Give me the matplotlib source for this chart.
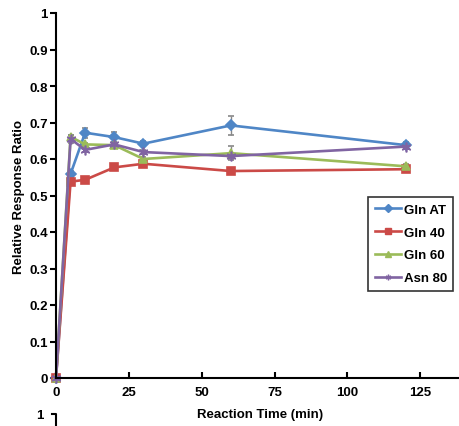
import numpy as np
import matplotlib.pyplot as plt
from matplotlib.lines import Line2D

plt.rcParams['font.family'] = ['Liberation Sans', 'DejaVu Sans']
plt.rcParams['font.weight'] = 'bold'

# reaction time points (min)
time = [0, 5, 10, 20, 30, 60, 120]

# relative response ratio for each sample
gln_at = [0.0, 0.559, 0.672, 0.660, 0.642, 0.692, 0.638]
gln_40 = [0.0, 0.538, 0.543, 0.577, 0.587, 0.567, 0.572]
gln_60 = [0.0, 0.661, 0.640, 0.638, 0.600, 0.616, 0.580]
asn_80 = [0.0, 0.655, 0.625, 0.640, 0.619, 0.608, 0.634]

err_at = [0.0, 0.008, 0.014, 0.013, 0.006, 0.026, 0.008]
err_40 = [0.0, 0.005, 0.004, 0.005, 0.004, 0.005, 0.005]
err_60 = [0.0, 0.006, 0.005, 0.005, 0.006, 0.020, 0.005]
err_80 = [0.0, 0.012, 0.006, 0.006, 0.005, 0.008, 0.006]

labels = ['Gln AT', 'Gln 40', 'Gln 60', 'Asn 80']
colors = ['#4f86c6', '#cb4a47', '#9bbb59', '#8064a2']
markers = ['D', 's', '^', (6, 2, 0)]
sizes = [5, 6, 6, 7]

fig = plt.figure(figsize=(4.59, 4.27), dpi=100)
ax = fig.add_axes([56 / 459, 1 - 379 / 427, 408 / 459, 365 / 427])

series = [gln_at, gln_40, gln_60, asn_80]
errors = [err_at, err_40, err_60, err_80]
handles = []
for y, e, lab, c, m, s in zip(series, errors, labels, colors, markers, sizes):
    ax.errorbar(time, y, yerr=e, color=c, marker=m, markersize=s, lw=1.9,
                ecolor='#888888', elinewidth=1, capsize=2.5,
                markeredgewidth=1.2, clip_on=False)
    handles.append(Line2D([], [], color=c, marker=m, markersize=4, lw=1.9,
                          label=lab))

ax.set_xlim(0, 140)
ax.set_ylim(0, 1)
ax.set_xticks([0, 25, 50, 75, 100, 125])
ax.set_yticks(np.arange(0, 1.01, 0.1))
ax.set_yticklabels(['0', '0.1', '0.2', '0.3', '0.4', '0.5', '0.6', '0.7',
                    '0.8', '0.9', '1'])
ax.spines['top'].set_visible(False)
ax.spines['right'].set_visible(False)
ax.spines['left'].set_linewidth(1.5)
ax.spines['bottom'].set_linewidth(1.5)
ax.tick_params(axis='y', direction='out', length=4, width=1.5, labelsize=9.5, pad=2)
ax.tick_params(axis='x', direction='in', length=4, width=1.5, labelsize=9.5, pad=6)

ax.set_xlabel('Reaction Time (min)', fontsize=9.5, fontweight='bold', labelpad=7)
ax.set_ylabel('Relative Response Ratio', fontsize=9.5, fontweight='bold', labelpad=3)

leg = ax.legend(handles=handles, loc='upper left',
                bbox_to_anchor=(312 / 408, 1 - 184 / 365),
                frameon=True, fancybox=False, edgecolor='black',
                prop={'size': 9.5, 'weight': 'bold'}, handlelength=2.0,
                handletextpad=0.2, borderpad=0.5, labelspacing=0.8,
                borderaxespad=0)
leg.get_frame().set_linewidth(1.2)

# top of the next panel underneath
fig.text(40 / 459, 1 - 416 / 427, '1', fontsize=9.5, fontweight='bold',
         ha='center', va='center')
fig.add_artist(Line2D([52 / 459, 56 / 459, 56 / 459],
                      [1 - 415 / 427, 1 - 415 / 427, 0],
                      color='black', lw=1.5))

fig.savefig('out.png', dpi=100)
